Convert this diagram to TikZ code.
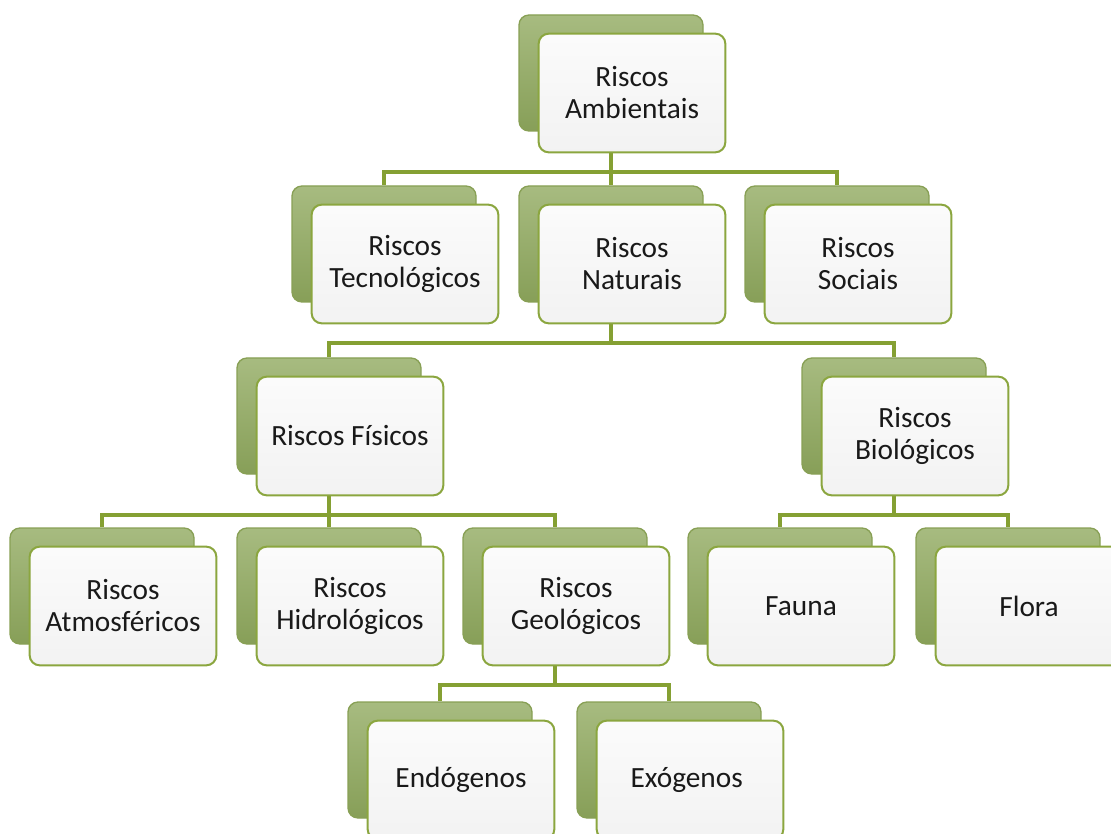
\documentclass[tikz,border=0pt]{standalone}
\usepackage{fontspec}
\setsansfont{Carlito}
\usepackage{tikz}
\usetikzlibrary{backgrounds}
\definecolor{linegreen}{HTML}{85A033}
\definecolor{backtop}{HTML}{A7BB80}
\definecolor{backbot}{HTML}{879F58}
\definecolor{backedge}{HTML}{88A055}
\definecolor{frontedge}{HTML}{8BA63F}

\begin{document}
\begin{tikzpicture}[x=0.75pt, y=-0.75pt, font=\sffamily\fontsize{22}{24}\selectfont,
	backbox/.style={draw=backedge, line width=1pt, rounded corners=7.5pt, top color=backtop, bottom color=backbot, minimum width=138pt, minimum height=87pt, inner sep=0pt},
	frontbox/.style={draw=frontedge, line width=1.5pt, rounded corners=7.5pt, top color=white!97!gray, bottom color=white!90!gray, minimum width=140pt, minimum height=89pt, inner sep=0pt, align=center, text=black!90},
	link/.style={draw=linegreen, line width=2.8pt}]
	\useasboundingbox (0,0) rectangle (1111,834);
	\clip (0,0) rectangle (1111,834);
	%boxes
	\foreach \n/\x/\y/\t in {
		amb/632/93/{Riscos\\Ambientais},
		tec/405/264/{Riscos\\Tecnológicos},
		nat/632/264/{Riscos\\Naturais},
		soc/858/264/{Riscos\\Sociais},
		fis/350/436/{Riscos Físicos},
		bio/915/436/{Riscos\\Biológicos},
		atm/123/606/{Riscos\\Atmosféricos},
		hid/350/606/{Riscos\\Hidrológicos},
		geo/576/606/{Riscos\\Geológicos},
		fau/801/606/{Fauna},
		flo/1029/606/{Flora},
		endo/461/780/{Endógenos},
		exo/690/780/{Exógenos}
	}{
		\node[backbox] (\n-b) at (\x-21,\y-20) {};
		\node[frontbox] (\n) at (\x,\y) {\t};
	}
	%lines
	\begin{scope}[on background layer]
		\foreach \p/\c in {amb/tec, amb/nat, amb/soc, nat/fis, nat/bio, fis/atm, fis/hid, fis/geo, bio/fau, bio/flo, geo/endo, geo/exo}
		\draw[link] (\p-b.south) -- ++(0,40) -| (\c-b.north);
	\end{scope}
\end{tikzpicture}
\end{document}
